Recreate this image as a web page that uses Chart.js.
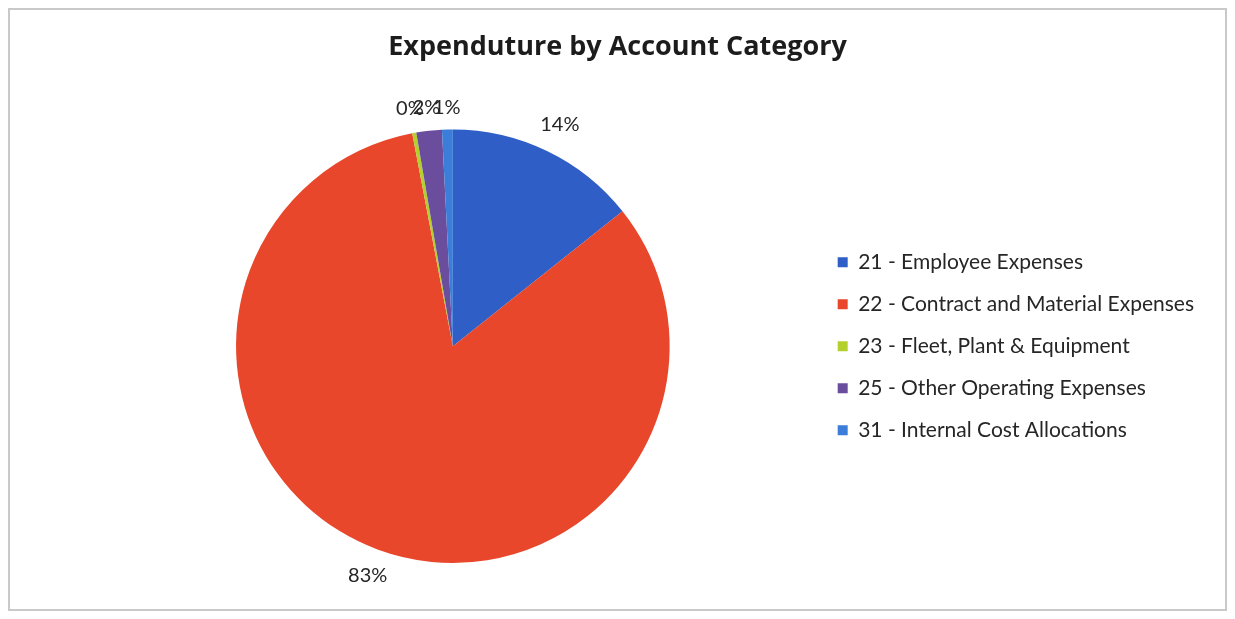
<!DOCTYPE html>
<html>
<head>
<meta charset="utf-8">
<title>Expenduture by Account Category</title>
<script src="https://cdn.jsdelivr.net/npm/chart.js@4.4.1/dist/chart.umd.min.js"></script>
<style>
  html, body { margin: 0; padding: 0; background: #fff; }
  #wrap { width: 1235px; height: 619px; }
</style>
</head>
<body>
<div id="wrap"><canvas id="pie" width="1235" height="619"></canvas></div>
<script>
// account categories and their share of total spend (%)
const categories = [
    '21 - Employee Expenses',
    '22 - Contract and Material Expenses',
    '23 - Fleet, Plant & Equipment',
    '25 - Other Operating Expenses',
    '31 - Internal Cost Allocations'
];
const shares = [14.3, 82.7, 0.3, 1.9, 0.8];
const sliceColors = ['#2E5EC6', '#E8472B', '#B4D02F', '#6A4D9D', '#3B7DD8'];

const labelFont = 'Lato';

// light grey frame round the whole chart
const frame = {
    id: 'frame',
    beforeDraw(chart) {
        const ctx = chart.ctx;
        ctx.save();
        ctx.fillStyle = '#fff';
        ctx.fillRect(0, 0, chart.width, chart.height);
        ctx.strokeStyle = '#c9c9c9';
        ctx.lineWidth = 2;
        ctx.strokeRect(9, 9, chart.width - 18, chart.height - 18);
        ctx.restore();
    }
};

// title centred over the full canvas, not just between the paddings
const centreTitle = {
    id: 'centreTitle',
    afterLayout(chart) {
        const t = chart.titleBlock;
        t.left = 0;
        t.right = chart.width;
    }
};

// percentage labels just outside each slice
const outsideLabels = {
    id: 'outsideLabels',
    afterDatasetsDraw(chart) {
        const ctx = chart.ctx;
        const meta = chart.getDatasetMeta(0);
        const total = shares.reduce((a, b) => a + b, 0);
        const font = Chart.helpers.toFont({ family: labelFont, size: 20 });
        ctx.save();
        ctx.font = font.string;
        ctx.fillStyle = '#262626';
        ctx.textAlign = 'center';
        ctx.textBaseline = 'middle';
        meta.data.forEach((arc, i) => {
            const p = arc.getProps(['x', 'y', 'startAngle', 'endAngle', 'outerRadius'], true);
            const mid = (p.startAngle + p.endAngle) / 2;
            const text = Math.round(shares[i] / total * 100) + '%';
            const w = ctx.measureText(text).width;
            const c = Math.cos(mid), s = Math.sin(mid);
            const r = p.outerRadius + 12 + Math.abs(c) * w / 2 + Math.abs(s) * font.size / 2;
            ctx.fillText(text, p.x + c * r, p.y + s * r);
        });
        ctx.restore();
    }
};

new Chart(document.getElementById('pie'), {
    type: 'pie',
    data: {
        labels: categories,
        datasets: [{
            data: shares,
            backgroundColor: sliceColors,
            borderWidth: 0
        }]
    },
    options: {
        responsive: false,
        animation: false,
        layout: {
            padding: { top: 15, left: 89, right: 31, bottom: 56 }
        },
        plugins: {
            title: {
                display: true,
                text: 'Expenduture by Account Category',
                color: '#1c1c1c',
                font: { family: 'Open Sans', size: 27, weight: 'bold' },
                padding: { top: 16, bottom: 66 }
            },
            legend: {
                position: 'right',
                align: 'center',
                fullSize: false,
                labels: {
                    boxWidth: 10,
                    boxHeight: 10,
                    padding: 21,
                    color: '#262626',
                    font: { family: labelFont, size: 21 }
                }
            },
            tooltip: { enabled: false }
        }
    },
    plugins: [frame, centreTitle, outsideLabels]
});
</script>
</body>
</html>
